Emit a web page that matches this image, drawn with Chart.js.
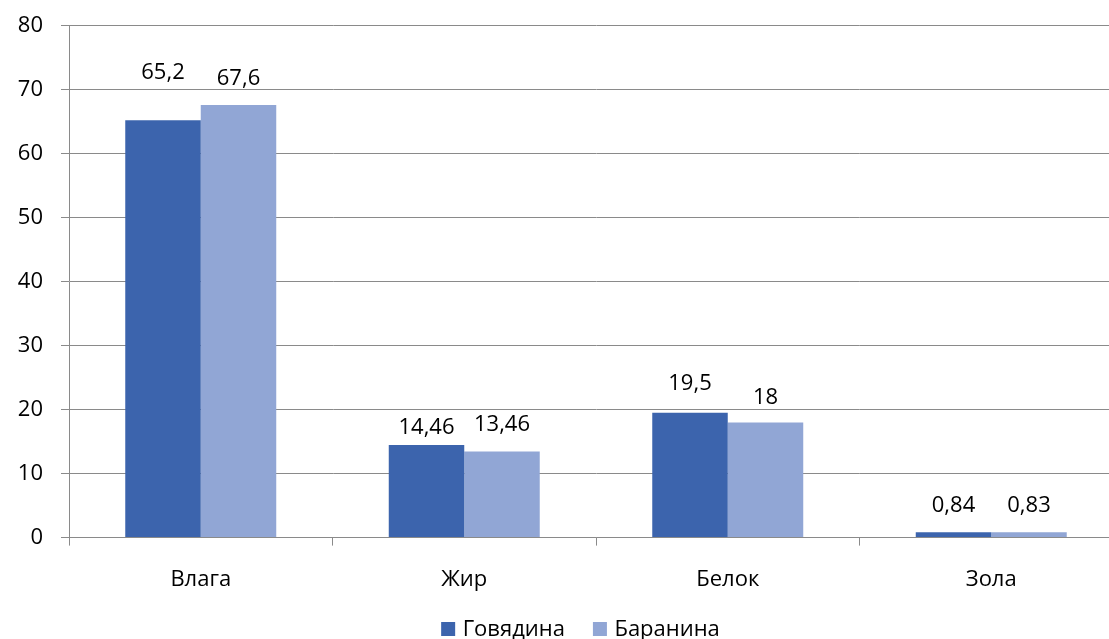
<!DOCTYPE html>
<html lang="ru">
<head>
<meta charset="utf-8">
<title>Говядина и баранина</title>
<script src="https://cdn.jsdelivr.net/npm/chart.js@4.4.1/dist/chart.umd.min.js"></script>
<style>
  html, body { margin: 0; padding: 0; background: #ffffff; overflow: hidden; }
  #wrap { width: 1109px; height: 639px; overflow: hidden; }
  canvas { display: block; }
</style>
</head>
<body>
<div id="wrap"><canvas id="c" width="1160" height="639"></canvas></div>
<script>
// Состав мяса, %
const categories = ['Влага', 'Жир', 'Белок', 'Зола'];
const beef = [65.2, 14.46, 19.5, 0.84];
const mutton = [67.6, 13.46, 18, 0.83];
const seriesNames = ['Говядина', 'Баранина'];
const yTicks = [0, 10, 20, 30, 40, 50, 60, 70, 80];

// How far (px) each value label sits above the top of its bar
const labelLift = [
  [48, 17.5, 29, 26.5],
  [26, 26.5, 25, 26.5]
];

const FONT = '"Open Sans", "Noto Sans", sans-serif';
const FONT_SIZE = 22;
const fmt = v => String(v).replace('.', ',');

// Value labels above the bars
const valueLabels = {
  id: 'valueLabels',
  afterDatasetsDraw(chart) {
    const ctx = chart.ctx;
    ctx.save();
    ctx.font = FONT_SIZE + 'px ' + FONT;
    ctx.fillStyle = '#000000';
    ctx.textAlign = 'center';
    ctx.textBaseline = 'middle';
    chart.data.datasets.forEach((ds, di) => {
      chart.getDatasetMeta(di).data.forEach((bar, i) => {
        ctx.fillText(fmt(ds.data[i]), bar.x, bar.y - labelLift[di][i]);
      });
    });
    ctx.restore();
  }
};

// Legend row under the axis, centred on the page area
const legendRow = {
  id: 'legendRow',
  afterDraw(chart) {
    const ctx = chart.ctx;
    const box = 14, gap = 7.5, spacing = 28, centerX = 580.5, midY = 629;
    ctx.save();
    ctx.font = FONT_SIZE + 'px ' + FONT;
    ctx.textBaseline = 'middle';
    ctx.textAlign = 'left';
    const items = chart.data.datasets.map(ds => ({
      text: ds.label, color: ds.backgroundColor, w: ctx.measureText(ds.label).width
    }));
    const total = items.reduce((s, it) => s + box + gap + it.w, 0) + spacing * (items.length - 1);
    let x = centerX - total / 2;
    items.forEach(it => {
      ctx.fillStyle = it.color;
      ctx.fillRect(x, midY - box / 2, box, box);
      ctx.fillStyle = '#000000';
      ctx.fillText(it.text, x + box + gap, midY + 1);
      x += box + gap + it.w + spacing;
    });
    ctx.restore();
  }
};

new Chart(document.getElementById('c'), {
  type: 'bar',
  data: {
    labels: categories,
    datasets: [
      { label: seriesNames[0], data: beef, backgroundColor: '#3c64ad' },
      { label: seriesNames[1], data: mutton, backgroundColor: '#91a6d5' }
    ]
  },
  options: {
    responsive: false,
    animation: false,
    devicePixelRatio: 1,
    layout: { padding: { left: 0, right: 37, top: 25.5, bottom: 25 } },
    datasets: { bar: { barPercentage: 1, categoryPercentage: 0.573 } },
    scales: {
      x: {
        grid: { drawOnChartArea: false, drawTicks: true, tickLength: 8, color: '#8a8a8a', offset: true },
        border: { color: '#8a8a8a' },
        ticks: { color: '#000000', padding: 21, font: { family: FONT, size: FONT_SIZE } }
      },
      y: {
        min: 0, max: 80,
        afterFit(scale) { scale.width = 69; scale.paddingTop = 0; scale.paddingBottom = 0; },
        afterBuildTicks(scale) { scale.ticks = yTicks.map(v => ({ value: v })); },
        grid: { color: '#8a8a8a', tickLength: 8 },
        border: { color: '#8a8a8a' },
        ticks: { color: '#000000', padding: 18, font: { family: FONT, size: FONT_SIZE } }
      }
    },
    plugins: {
      tooltip: { enabled: false },
      legend: { display: false }
    }
  },
  plugins: [valueLabels, legendRow]
});
</script>
</body>
</html>
